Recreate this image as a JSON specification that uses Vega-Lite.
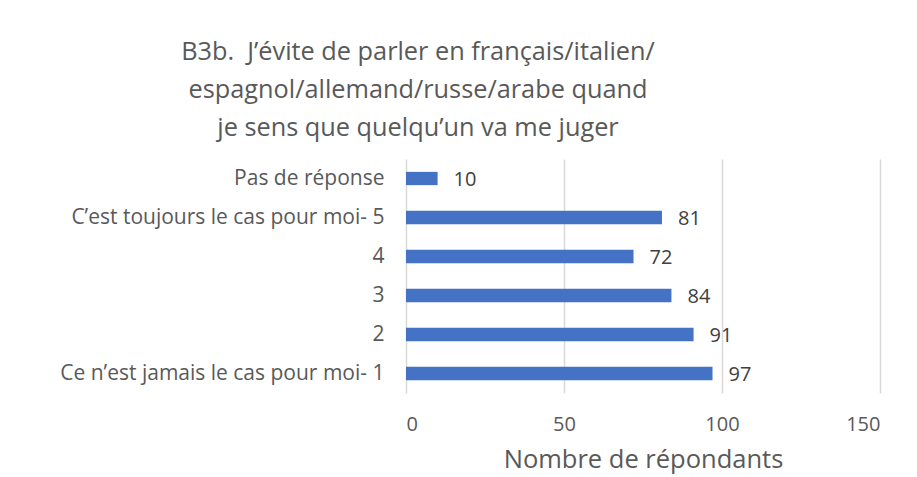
{
  "$schema": "https://vega.github.io/schema/vega-lite/v6.json",
  "autosize": "none",
  "width": 474,
  "height": 234,
  "padding": {"left": 406, "top": 159, "right": 37, "bottom": 84},
  "background": "white",
  "title": {
    "text": ["B3b.\u00a0 J’évite de parler en français/italien/", "espagnol/allemand/russe/arabe quand", "je sens que quelqu’un va me juger"],
    "anchor": "middle",
    "frame": "group",
    "dx": -225,
    "offset": 18,
    "font": "Open Sans",
    "fontSize": 25.3,
    "fontWeight": "normal",
    "color": "#595959",
    "lineHeight": 38
  },
  "data": {
    "values": [
      {"reponse": "Pas de réponse", "n": 10},
      {"reponse": "C’est toujours le cas pour moi- 5", "n": 81},
      {"reponse": "4", "n": 72},
      {"reponse": "3", "n": 84},
      {"reponse": "2", "n": 91},
      {"reponse": "Ce n’est jamais le cas pour moi- 1", "n": 97}
    ]
  },
  "encoding": {
    "y": {
      "field": "reponse",
      "type": "nominal",
      "sort": null,
      "scale": {"paddingInner": 0.66, "paddingOuter": 0.33},
      "axis": {
        "title": null,
        "domain": false,
        "ticks": false,
        "labelPadding": 22,
        "labelFont": "Open Sans",
        "labelFontSize": 21,
        "labelColor": "#595959",
        "labelLimit": 400
      }
    },
    "x": {
      "field": "n",
      "type": "quantitative",
      "scale": {"domain": [0, 150], "nice": false},
      "axis": {
        "title": "Nombre de répondants",
        "values": [0, 50, 100, 150],
        "domain": false,
        "ticks": false,
        "grid": true,
        "gridColor": "#d9d9d9",
        "gridWidth": 1.5,
        "labelPadding": 21,
        "labelFont": "Open Sans",
        "labelFontSize": 20,
        "labelColor": "#595959",
        "titleFont": "Open Sans",
        "titleFontSize": 25.5,
        "titleFontWeight": "normal",
        "titleColor": "#595959",
        "titlePadding": 13
      }
    }
  },
  "layer": [
    {"mark": {"type": "bar", "color": "#4472C4"}},
    {
      "mark": {"type": "text", "align": "left", "baseline": "middle", "dx": 16, "dy": 1, "font": "Open Sans", "fontSize": 20, "color": "#404040"},
      "encoding": {"text": {"field": "n", "type": "quantitative"}}
    }
  ],
  "config": {"view": {"stroke": null}}
}
